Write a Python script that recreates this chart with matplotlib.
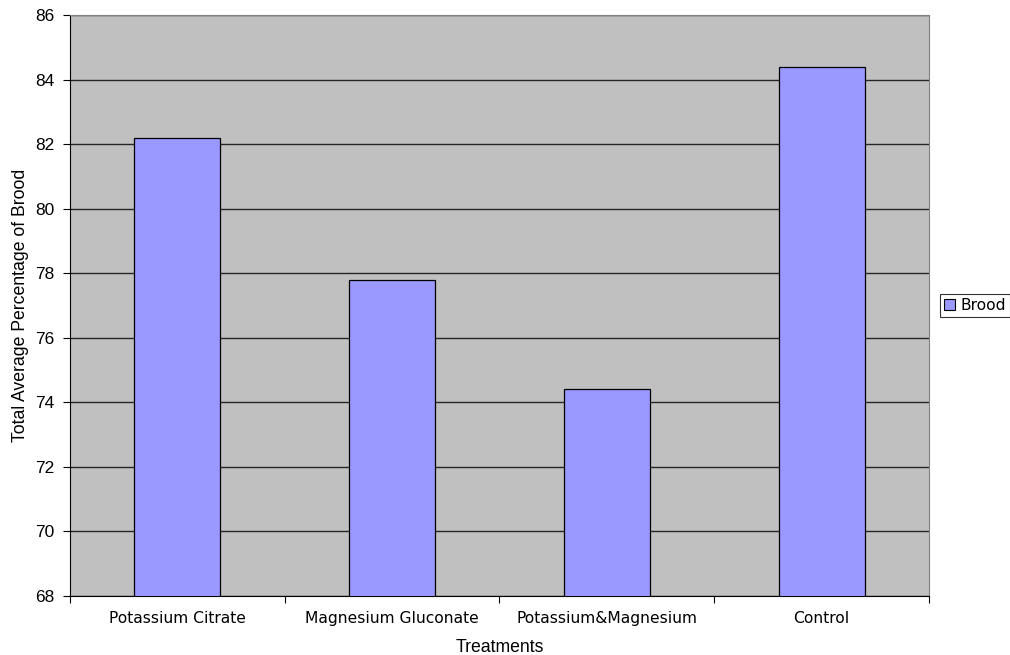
import matplotlib
matplotlib.use("Agg")
import matplotlib.pyplot as plt
from matplotlib.patches import Patch

categories = ["Potassium Citrate", "Magnesium Gluconate", "Potassium&Magnesium", "Control"]
brood = [82.2, 77.8, 74.4, 84.4]
yticks = [68, 70, 72, 74, 76, 78, 80, 82, 84, 86]

fig = plt.figure(figsize=(10.10, 6.55), dpi=100)
ax = fig.add_axes([70 / 1010, 1 - 596 / 655, (929 - 70) / 1010, (596 - 15) / 655])
ax.set_facecolor("#c0c0c0")

x = list(range(len(categories)))
ax.bar(x, brood, width=0.4, bottom=0, color="#9999ff", edgecolor="black", linewidth=0.9, zorder=3)

ax.set_xlim(-0.5, len(categories) - 0.5)
ax.set_ylim(68, 86)
ax.set_yticks(yticks)
ax.set_yticklabels([str(v) for v in yticks], fontsize=12.5, family="Liberation Sans")
ax.yaxis.grid(True, color="#262626", linewidth=1.0, zorder=1)
ax.set_axisbelow(True)

# category labels sit between boundary ticks
ax.set_xticks([i - 0.5 for i in range(len(categories) + 1)])
ax.set_xticklabels([])
ax.set_xticks(x, minor=True)
ax.set_xticklabels(categories, minor=True, fontsize=11.2, family="DejaVu Sans")
ax.tick_params(axis="x", which="minor", length=0, pad=11)
ax.tick_params(axis="x", which="major", length=5, direction="out", color="black")
ax.tick_params(axis="y", length=5, direction="out", color="black", pad=6)

for side in ["top", "right"]:
    ax.spines[side].set_color("#808080")
for side in ["left", "bottom"]:
    ax.spines[side].set_color("black")

ax.set_xlabel("Treatments", fontsize=12.7, family="Liberation Sans", labelpad=9)
ax.set_ylabel("Total Average Percentage of Brood", fontsize=12.7, family="Liberation Sans", labelpad=5)

leg = fig.legend(handles=[Patch(facecolor="#9999ff", edgecolor="black", linewidth=0.8, label="Brood")],
                 loc="center left", bbox_to_anchor=(940 / 1010, 1 - 305.5 / 655),
                 fontsize=11.2, frameon=True, fancybox=False, handlelength=0.7, handleheight=0.7,
                 handletextpad=0.35, borderpad=0.25, borderaxespad=0)
leg.get_frame().set_edgecolor("black")
leg.get_frame().set_linewidth(0.8)
for t in leg.get_texts():
    t.set_family("DejaVu Sans")

fig.savefig("out.png", dpi=100)
